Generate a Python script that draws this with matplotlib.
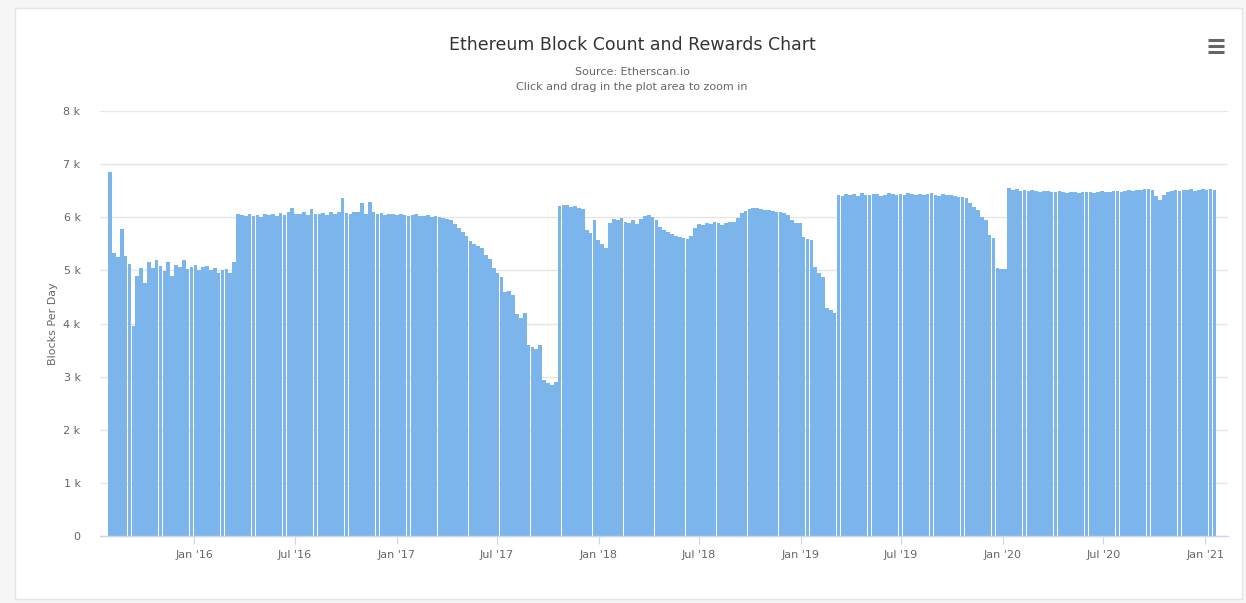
import numpy as np
import matplotlib
matplotlib.use("Agg")
import matplotlib.pyplot as plt
from matplotlib.patches import Rectangle
from matplotlib.lines import Line2D

# weekly blocks per day (first week starts 2015-07-30)
start_date = np.datetime64("2015-07-30")
blocks_2015 = [6850, 5320, 5260, 5780, 5280, 5120, 3950,
               4900, 5050, 4760, 5150, 5040, 5200, 5080, 4980, 5160, 4900,
               5100, 5060, 5190, 5020, 5070, 5110, 5010, 5060, 5090, 5000,
               5040, 4960, 5010, 5030, 4950, 5150, 6060]
blocks_2016 = [6040, 6020, 6060, 6030, 6050, 6010, 6070, 6040, 6060, 6030,
               6080, 6050, 6100, 6180, 6070, 6060, 6090, 6050, 6150, 6070,
               6060, 6080, 6050, 6090, 6070, 6100, 6360, 6080, 6060, 6100,
               6090, 6270, 6070, 6280, 6100, 6060, 6080, 6050, 6070, 6060,
               6040, 6060, 6050, 6030, 6040, 6060, 6020, 6030, 6040, 6010,
               6020, 6000, 5990, 5970]
blocks_2017 = [5950, 5880, 5800, 5720, 5640, 5560, 5500, 5460, 5420, 5290, 5220,
               5040, 4960, 4880, 4600, 4620, 4540, 4180, 4100, 4200,
               3600, 3560, 3520, 3600, 2930, 2880, 2840, 2900]
blocks_2018 = [6220, 6240, 6230, 6200, 6210, 6180, 6150,
               5760, 5700, 5950, 5570, 5500, 5420, 5900,
               5960, 5940, 5990, 5920, 5900, 5950, 5880, 5960,
               6030, 6050, 6010, 5940,
               5820, 5760, 5720, 5680, 5650, 5630, 5610, 5600, 5640,
               5800, 5880, 5860, 5900, 5870, 5910, 5890, 5860, 5900, 5920, 5910, 5990,
               6080, 6120, 6150, 6180, 6170, 6160, 6140, 6130, 6120, 6100, 6090, 6080, 6040,
               5950, 5900, 5890, 5630, 5600, 5570, 5060, 4950, 4880, 4300, 4250, 4200]
blocks_2019 = [6420, 6400, 6440, 6410, 6430, 6400, 6450, 6420, 6410, 6440,
               6430, 6400, 6420, 6450, 6430, 6410, 6440, 6420, 6460, 6430,
               6410, 6440, 6420, 6430, 6450, 6420, 6400, 6430, 6410, 6420,
               6400, 6390, 6380, 6360,
               6270, 6200, 6140, 6010, 5950, 5670, 5610, 5050, 5030, 5020]
blocks_2020 = [6550, 6520, 6530, 6500, 6510, 6490, 6520, 6500, 6480, 6490,
               6500, 6470, 6480, 6490, 6470, 6460, 6480, 6470, 6460, 6480,
               6470, 6480, 6460, 6470, 6490, 6480, 6470, 6490, 6500, 6480,
               6500, 6510, 6490, 6520, 6510, 6530, 6540, 6520, 6400, 6330,
               6420, 6480, 6500, 6510, 6490, 6520, 6510, 6530, 6500, 6520,
               6540, 6510, 6530, 6520]

blocks = np.array(blocks_2015 + blocks_2016 + blocks_2017 + blocks_2018
                  + blocks_2019 + blocks_2020)
weeks = start_date + np.arange(len(blocks)) * np.timedelta64(7, "D")
week_dates = weeks.astype("datetime64[D]").astype(object)

tick_dates = np.array(["2016-01-01", "2016-07-01", "2017-01-01", "2017-07-01",
                       "2018-01-01", "2018-07-01", "2019-01-01", "2019-07-01",
                       "2020-01-01", "2020-07-01", "2021-01-01"], dtype="datetime64[D]")
tick_labels = ["Jan '16", "Jul '16", "Jan '17", "Jul '17", "Jan '18", "Jul '18",
               "Jan '19", "Jul '19", "Jan '20", "Jul '20", "Jan '21"]
y_ticks = [0, 1000, 2000, 3000, 4000, 5000, 6000, 7000, 8000]

W, H = 1246, 603
fig = plt.figure(figsize=(W / 100, H / 100), dpi=100)
fig.patch.set_facecolor("#f6f6f6")

# white card with light border
fig.patches.append(Rectangle((15 / W, 1 - 599 / H), 1227 / W, 591 / H,
                             transform=fig.transFigure, facecolor="white",
                             edgecolor="#e4e4e4", linewidth=1, zorder=-2))

ax = fig.add_axes([100 / W, 1 - 536 / H, 1128 / W, 425 / H])
ax.set_zorder(1)
ax.set_facecolor("none")

ax.bar(week_dates, blocks, width=6.65, align="edge", color="#7cb5ec",
       linewidth=0, zorder=2)

ax.set_xlim(np.datetime64("2015-07-15").astype(object),
            np.datetime64("2021-02-11").astype(object))
ax.set_ylim(0, 8000)

ax.set_yticks(y_ticks)
ax.set_yticklabels(["0"] + [f"{v // 1000} k" for v in y_ticks[1:]])
ax.set_xticks(tick_dates.astype(object))
ax.set_xticklabels(tick_labels)

ax.grid(axis="y", color="#e6e6e6", linewidth=1, zorder=0)
ax.set_axisbelow(True)
for side in ["top", "right", "left"]:
    ax.spines[side].set_visible(False)
ax.spines["bottom"].set_color("#ccd6eb")
ax.spines["bottom"].set_linewidth(1)

ax.tick_params(axis="y", length=0, pad=14, labelsize=8, labelcolor="#666666")
ax.tick_params(axis="x", length=6, color="#ccd6eb", pad=4, labelsize=8,
               labelcolor="#666666")

ax.set_ylabel("Blocks Per Day", fontsize=8, color="#666666", labelpad=4)

fig.text(632 / W, 1 - 45 / H, "Ethereum Block Count and Rewards Chart",
         ha="center", va="center", fontsize=12.5, color="#333333")
fig.text(632 / W, 1 - 72 / H, "Source: Etherscan.io",
         ha="center", va="center", fontsize=8, color="#666666")
fig.text(632 / W, 1 - 87 / H, "Click and drag in the plot area to zoom in",
         ha="center", va="center", fontsize=8, color="#666666")

# hamburger menu icon
for yy in (40, 46, 52):
    fig.lines.append(Line2D([1208 / W, 1224 / W], [1 - yy / H, 1 - yy / H],
                            transform=fig.transFigure, color="#666666",
                            linewidth=2.2, solid_capstyle="butt"))

fig.savefig("out.png", dpi=100, facecolor=fig.get_facecolor())
